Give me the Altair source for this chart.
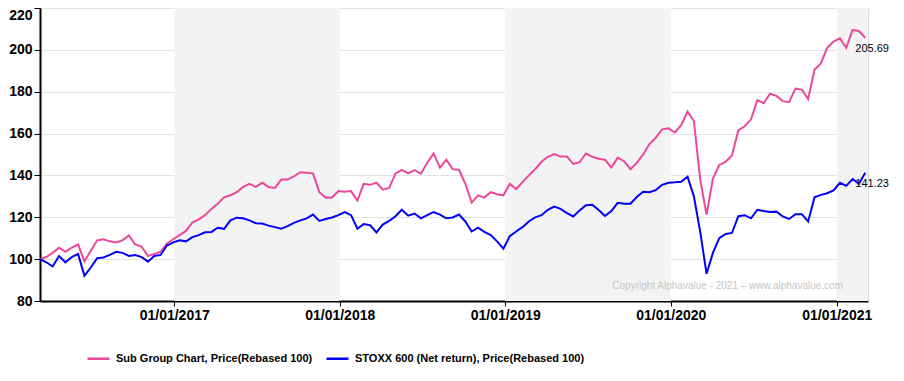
import altair as alt
import pandas as pd

# ---- data (bi-weekly samples) ----
start_date = "2016-03-11"
n_points = 131
dates = [d.strftime("%Y-%m-%d") for d in pd.date_range(start_date, periods=n_points, freq="14D")]

sub_group = [
    100.0, 101.0, 103.0, 105.5, 103.5, 105.5, 107.0, 99.0, 104.0, 109.0,
    109.5, 108.5, 108.0, 109.0, 111.3, 107.0, 106.0, 101.5, 102.5, 103.5,
    107.5, 109.5, 111.5, 113.5, 117.5, 119.0, 121.0, 124.0, 126.5, 129.5,
    130.5, 132.0, 134.5, 136.0, 134.5, 136.5, 134.5, 134.0, 138.0, 138.0,
    139.5, 141.5, 141.3, 141.0, 132.0, 129.4, 129.5, 132.5, 132.2, 132.5,
    128.0, 136.0, 135.5, 136.5, 133.2, 134.0, 141.0, 142.7, 141.0, 142.5,
    140.8, 146.0, 150.5, 143.7, 147.5, 143.0, 142.7, 136.0, 127.0, 130.5,
    129.4, 132.0, 131.0, 130.5, 136.0, 133.5, 136.8, 140.0, 143.0, 146.5,
    148.9, 150.2, 149.0, 149.0, 145.5, 146.3, 150.5, 148.9, 148.0, 147.5,
    143.8, 148.5, 146.8, 143.0, 146.0, 150.0, 155.0, 158.0, 162.0, 162.5,
    160.5, 164.0, 170.5, 166.0, 138.0, 121.3, 138.5, 145.0, 146.5, 149.5,
    161.5, 163.5, 166.8, 176.0, 174.5, 179.0, 178.0, 175.5, 175.0, 181.5,
    181.0, 176.5, 190.5, 193.5, 201.0, 204.0, 205.5, 201.0, 209.5, 209.0,
    205.69,
]

stoxx = [
    100.0, 98.5, 96.5, 101.5, 98.5, 101.0, 102.5, 92.0, 96.0, 100.5,
    100.8, 102.0, 103.5, 103.0, 101.5, 102.0, 101.0, 98.8, 101.5, 102.0,
    106.5, 108.0, 109.0, 108.5, 110.5, 111.5, 112.8, 113.0, 115.0, 114.5,
    118.5, 119.8, 119.5, 118.5, 117.2, 117.0, 116.0, 115.3, 114.5, 115.8,
    117.3, 118.5, 119.5, 121.3, 118.3, 119.2, 119.9, 121.0, 122.5, 121.0,
    114.5, 116.8, 116.2, 112.8, 116.5, 118.3, 120.5, 123.6, 120.8, 121.8,
    119.5, 121.0, 122.5, 121.3, 119.5, 119.9, 121.3, 118.0, 113.2, 115.0,
    113.0, 111.5, 108.5, 105.0, 111.0, 113.2, 115.3, 118.0, 120.0, 121.0,
    123.6, 125.1, 124.0, 122.0, 120.4, 123.3, 125.8, 126.0, 123.5, 120.6,
    123.0, 126.9, 126.5, 126.5, 129.7, 132.2, 132.0, 133.0, 135.5, 136.5,
    136.7, 137.0, 139.4, 130.0, 113.0, 93.0, 103.0, 110.0, 112.0, 112.5,
    120.5, 121.0, 119.5, 123.6, 123.0, 122.5, 122.7, 120.4, 119.2, 121.5,
    121.5, 118.0, 129.6, 130.7, 131.5, 132.8, 136.5, 135.0, 138.3, 136.0,
    141.23,
]

series_names = ["Sub Group Chart, Price(Rebased 100)", "STOXX 600 (Net return), Price(Rebased 100)"]
series_colors = ["#ec4899", "#0000ff"]

band_starts = ["2017-01-01", "2019-01-01", "2021-01-01"]
band_ends = ["2018-01-01", "2020-01-01", "2021-03-11"]

x_domain = ["2016-03-11", "2021-03-11"]
y_ticks = [80, 100, 120, 140, 160, 180, 200, 220]
x_tick_years = [2017, 2018, 2019, 2020, 2021]
watermark = "Copyright Alphavalue - 2021 \u2013 www.alphavalue.com"

# ---- tables ----
df = pd.concat([
    pd.DataFrame({"date": dates, "value": sub_group, "series": series_names[0]}),
    pd.DataFrame({"date": dates, "value": stoxx, "series": series_names[1]}),
])
bands = pd.DataFrame({"start": band_starts, "end": band_ends})
last = pd.DataFrame({
    "date": [dates[-1], dates[-1]],
    "value": [sub_group[-1], stoxx[-1]],
    "label": [f"{sub_group[-1]:.2f}", f"{stoxx[-1]:.2f}"],
})

FONT = "Liberation Sans"
W, H = 828, 293

x_scale = alt.Scale(type="utc", domain=x_domain)
y_scale = alt.Scale(domain=[80, 220], nice=False, zero=False)

x_axis = alt.Axis(
    values=[alt.DateTime(year=y, month=1, date=1, utc=True) for y in x_tick_years],
    format="%d/%m/%Y", title=None, grid=False,
    labelFont=FONT, labelFontWeight="bold", labelFontSize=14, labelColor="#000",
    labelPadding=2, tickSize=5, tickColor="#000", domainColor="#000", domainWidth=2,
    labelOverlap=False,
)
y_axis = alt.Axis(
    values=y_ticks, title=None, grid=True, gridColor="#e3e3e3",
    labelFont=FONT, labelFontWeight="bold", labelFontSize=14, labelColor="#000",
    labelPadding=2, tickSize=6, tickColor="#000", domainColor="#000", domainWidth=2,
    labelBaseline={"condition": {"test": "datum.value == 220", "value": "top"}, "value": "middle"},
)

band_layer = alt.Chart(bands).mark_rect(color="#f3f3f3").encode(
    x=alt.X("start:T", scale=x_scale, axis=x_axis),
    x2="end:T",
    y=alt.datum(220, scale=y_scale, axis=y_axis),
    y2=alt.datum(80),
)

color = alt.Color(
    "series:N",
    scale=alt.Scale(domain=series_names, range=series_colors),
    legend=alt.Legend(
        title=None, orient="none", legendX=46, legendY=338, direction="horizontal",
        symbolType="stroke", symbolSize=484, symbolStrokeWidth=2.5,
        labelFont=FONT, labelFontWeight="bold", labelFontSize=11,
        labelColor="#000", labelLimit=0, labelOffset=5, columnPadding=8,
    ),
)

def line_for(name):
    return alt.Chart(df).transform_filter(alt.datum.series == name).mark_line(
        strokeWidth=2, interpolate="linear"
    ).encode(
        x=alt.X("date:T", scale=x_scale),
        y=alt.Y("value:Q", scale=y_scale),
        color=color,
    )

labels = alt.Chart(last).mark_text(
    align="left", baseline="middle", dx=-10, dy=11, font=FONT, fontSize=11, color="#000"
).encode(
    x=alt.X("date:T", scale=x_scale),
    y=alt.Y("value:Q", scale=y_scale),
    text="label:N",
)

wm = alt.Chart(pd.DataFrame({"t": [watermark]})).mark_text(
    align="right", baseline="middle", font=FONT, fontSize=10, color="#c6c6c6"
).encode(x=alt.value(803), y=alt.value(278), text="t:N")

chart = alt.layer(band_layer, line_for(series_names[0]), line_for(series_names[1]), labels, wm).properties(
    width=W, height=H,
    autosize=alt.AutoSizeParams(type="none"),
    padding={"left": 32, "top": 0, "right": 24, "bottom": 66},
).configure_view(stroke=None).configure(background="#ffffff")

chart.save("out.html", embed_options={"renderer": "svg", "actions": False})
